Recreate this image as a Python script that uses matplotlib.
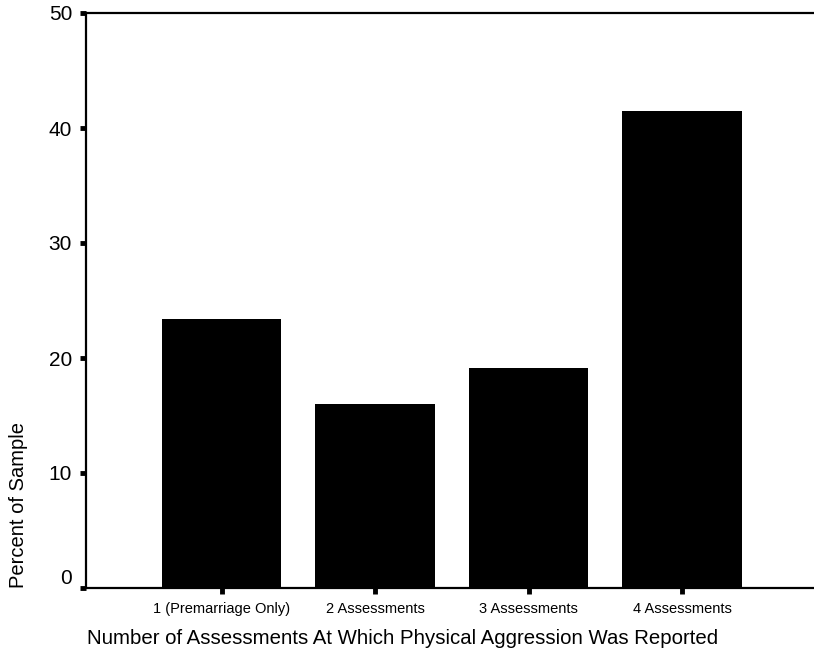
import matplotlib.pyplot as plt
import matplotlib.transforms as mtransforms
import numpy as np

plt.rcParams['font.family'] = ['Liberation Sans', 'DejaVu Sans']

# data
categories = ["1 (Premarriage Only)", "2 Assessments", "3 Assessments", "4 Assessments"]
percent = [23.4, 16.0, 19.1, 41.5]
yticks = [0, 10, 20, 30, 40, 50]

fig = plt.figure(figsize=(8.14, 6.51), dpi=100)
ax = fig.add_axes([86 / 814, 63 / 651, 1 - 86 / 814, 575 / 651])

x = np.arange(len(categories))
ax.bar(x, percent, width=0.78, color='black')

ax.set_xlim(-0.883, 3.86)
ax.set_ylim(0, 50)
ax.set_xticks(x)
ax.set_xticklabels(categories, fontsize=10.5)
ax.set_yticks(yticks)
ax.set_yticklabels([str(v) for v in yticks], fontsize=15)

ax.spines['right'].set_visible(False)
for s in ['left', 'top', 'bottom']:
    ax.spines[s].set_linewidth(1.6)
ax.tick_params(axis='both', direction='out', length=4, width=3.5, color='black')
ax.tick_params(axis='x', pad=6)
ax.tick_params(axis='y', pad=6)

# SPSS puts the zero label a little above its tick
lbl0 = ax.get_yticklabels()[0]
lbl0.set_transform(lbl0.get_transform() + mtransforms.ScaledTranslation(0, 8 / 72, fig.dpi_scale_trans))

ax.set_xlabel("Number of Assessments At Which Physical Aggression Was Reported", fontsize=14.7)
ax.xaxis.set_label_coords(0.435, -0.072)
ax.set_ylabel("Percent of Sample", fontsize=14.5)
ax.yaxis.set_label_coords(-0.079, 0.145)

fig.savefig("out.png", dpi=100)
